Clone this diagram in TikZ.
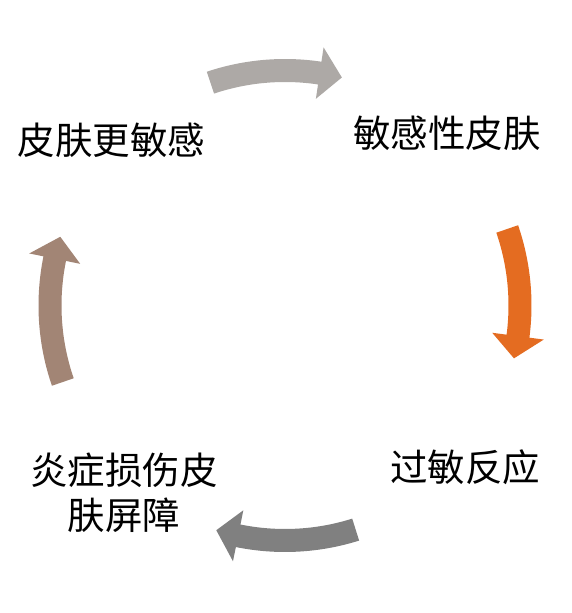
\documentclass[tikz,border=0pt]{standalone}
\usepackage{fontspec}
\newfontfamily\cjk{Noto Sans CJK SC}
\definecolor{arrowA}{HTML}{ADA9A6}
\definecolor{arrowB}{HTML}{E46C21}
\definecolor{arrowC}{HTML}{808080}
\definecolor{arrowD}{HTML}{A28575}
\newcommand\cycarrow[4]{%
  \fill[#1] (#2:246.5pt) arc[start angle=#2, end angle=#3, radius=246.5pt]
    -- (#3:261pt) -- (#4:235pt) -- (#3:209pt) -- (#3:223.5pt)
    arc[start angle=#3, end angle=#2, radius=223.5pt] -- cycle;}
\tikzset{lbl/.style={font=\cjk\fontsize{37.5}{45}\selectfont, text=black, align=center, inner sep=0pt}}
\begin{document}
\begin{tikzpicture}[x=1pt,y=1pt]
\useasboundingbox (0,0) rectangle (571,613);
\fill[white] (0,0) rectangle (571,613);
\begin{scope}[shift={(285,307.5)}]
  \cycarrow{arrowA}{108.5}{81.5}{76}
  \cycarrow{arrowB}{19}{-7.5}{-13}
  \cycarrow{arrowC}{-72.5}{-101.5}{-107}
  \cycarrow{arrowD}{199}{168.5}{163}
\end{scope}
\node[lbl] (n1) at (111.5,473) {皮肤更敏感};
\node[lbl] (n2) at (447,480) {敏感性皮肤};
\node[lbl] (n3) at (465,146) {过敏反应};
\node[lbl] (n4) at (124,120) {炎症损伤皮\\肤屏障};
\end{tikzpicture}
\end{document}
